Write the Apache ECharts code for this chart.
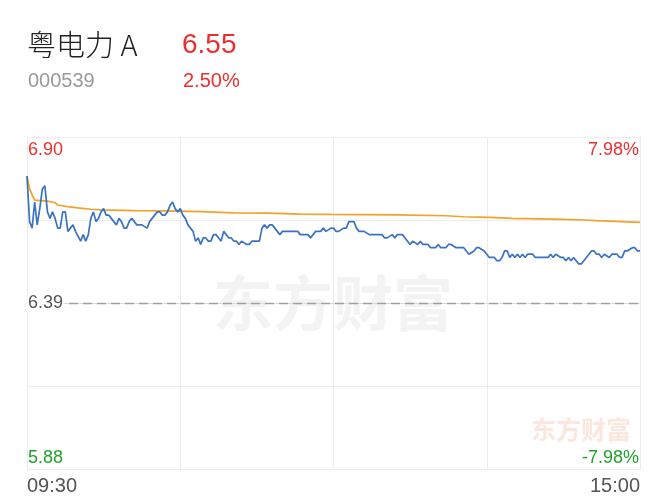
<!DOCTYPE html>
<html>
<head>
<meta charset="utf-8">
<script src="https://cdn.jsdelivr.net/npm/echarts@6/dist/echarts.min.js"></script>
<style>
html,body{margin:0;padding:0;background:#fff;}
#main{width:667px;height:500px;}
</style>
</head>
<body>
<div id="main"></div>
<script>
// ---- data ----
const stockName = '粤电力 A';
const stockCode = '000539';
const lastPrice = '6.55';
const changePct = '2.50%';
const preClose = 6.39;
const priceMin = 5.88;
const priceMax = 6.90;
const pctMax = 7.98;
const priceLabels = ['5.88', '6.39', '6.90'];
const pctLabels = ['-7.98%', '7.98%'];
const timeLabels = ['09:30', '15:00'];

const priceMinutes = [0,1,2,3,4,5,6,7,8,9,10,11,12,13,14,15,16,17,18,19,21,22,23,24,25,26,27,28,29,30,31,32,34,35,36,37,38,39,40,41,42,43,44,45,47,48,49,50,51,52,53,54,55,56,57,58,59,60,61,62,63,64,65,66,67,68,69,70,71,72,73,74,75,76,77,78,79,80,81,82,83,84,86,87,88,89,91,92,93,94,95,96,98,99,100,102,106,107,110,111,112,113,115,116,117,119,120,121,122,124,125,126,127,128,129,130,132,134,136,137,138,139,140,141,143,144,145,147,148,149,150,151,153,154,155,157,158,160,161,162,164,165,166,168,169,171,172,173,175,176,177,179,180,181,183,184,185,186,187,188,189,190,191,192,193,194,195,196,198,199,200,202,203,204,205,206,207,209,210,211,212,213,214,215,216,217,218,219,220,221,222,223,224,225,226,228,229,231,232,233,234,235,237,238,239,240];
const priceValues = [6.78,6.64,6.62,6.70,6.63,6.68,6.74,6.75,6.67,6.65,6.67,6.65,6.62,6.62,6.67,6.67,6.61,6.62,6.63,6.61,6.58,6.60,6.58,6.60,6.65,6.67,6.64,6.65,6.67,6.68,6.66,6.66,6.64,6.63,6.65,6.64,6.62,6.62,6.64,6.65,6.64,6.63,6.63,6.63,6.62,6.64,6.65,6.66,6.67,6.67,6.66,6.66,6.67,6.69,6.70,6.68,6.67,6.68,6.66,6.65,6.63,6.62,6.61,6.58,6.59,6.57,6.59,6.59,6.58,6.58,6.60,6.60,6.59,6.58,6.61,6.60,6.59,6.59,6.58,6.58,6.57,6.58,6.57,6.57,6.58,6.58,6.58,6.62,6.63,6.62,6.63,6.63,6.61,6.60,6.61,6.61,6.61,6.60,6.60,6.59,6.60,6.61,6.61,6.62,6.61,6.62,6.62,6.61,6.61,6.62,6.62,6.64,6.64,6.64,6.62,6.61,6.61,6.60,6.60,6.60,6.60,6.60,6.59,6.59,6.60,6.59,6.60,6.60,6.59,6.58,6.57,6.58,6.57,6.58,6.57,6.57,6.56,6.56,6.57,6.56,6.56,6.57,6.57,6.56,6.56,6.56,6.55,6.54,6.55,6.56,6.56,6.55,6.54,6.53,6.53,6.52,6.52,6.53,6.55,6.55,6.53,6.54,6.53,6.54,6.53,6.54,6.53,6.54,6.54,6.53,6.53,6.53,6.53,6.53,6.54,6.53,6.54,6.53,6.53,6.52,6.53,6.52,6.53,6.52,6.51,6.51,6.52,6.53,6.54,6.55,6.55,6.54,6.54,6.53,6.54,6.53,6.54,6.54,6.53,6.53,6.55,6.55,6.56,6.56,6.55,6.55];

const avgMinutes = [0,1,2,3,8,11,12,16,19,25,29,42,55,68,81,94,107,119,145,164,171,181,190,210,218,223,240];
const avgValues = [6.78,6.742,6.722,6.706,6.703,6.698,6.691,6.686,6.683,6.678,6.676,6.674,6.673,6.671,6.667,6.666,6.663,6.662,6.661,6.658,6.655,6.653,6.650,6.647,6.645,6.643,6.638];

// ---- colours / styles ----
const RED = '#e8302f';
const GREEN = '#22a02a';
const GRID = '#ececec';
const FONT = '"Liberation Sans", Arial, "Noto Sans CJK SC", sans-serif';

const priceData = priceMinutes.map((m, i) => [m, priceValues[i]]);
const avgData = avgMinutes.map((m, i) => [m, avgValues[i]]);

const chart = echarts.init(document.getElementById('main'), null, {renderer: 'canvas'});

function near(a, b) { return Math.abs(a - b) < 1e-6; }

const option = {
  animation: false,
  backgroundColor: '#fff',
  textStyle: {fontFamily: FONT},
  title: [
    {text: stockName, left: 27, top: 30, padding: 0,
     textStyle: {fontSize: 29, fontWeight: 300, color: '#222', fontFamily: '"Noto Sans CJK SC", sans-serif', letterSpacing: 1}},
    {text: lastPrice, left: 182, top: 31, padding: 0,
     textStyle: {fontSize: 28, fontWeight: 'normal', color: RED, fontFamily: FONT}},
    {text: stockCode, left: 28, top: 71, padding: 0,
     textStyle: {fontSize: 20, fontWeight: 'normal', color: '#9a9a9a', fontFamily: FONT, letterSpacing: 1}},
    {text: changePct, left: 183, top: 71, padding: 0,
     textStyle: {fontSize: 20, fontWeight: 'normal', color: RED, fontFamily: FONT}}
  ],
  graphic: [
    {type: 'text', z: -10, x: 333, y: 303, silent: true,
     style: {text: '东方财富', fill: '#f3f3f3', font: 'bold 60px "Noto Sans CJK SC"', align: 'center', verticalAlign: 'middle'}},
    {type: 'text', z: -10, x: 581, y: 429, silent: true,
     style: {text: '东方财富', fill: '#fce7df', font: 'bold 25px "Noto Sans CJK SC"', align: 'center', verticalAlign: 'middle'}}
  ],
  grid: {left: 27, right: 27, top: 137, bottom: 31, containLabel: false},
  xAxis: {
    type: 'value', min: 0, max: 240, interval: 60,
    axisLine: {show: true, lineStyle: {color: '#dcdcdc', width: 1}},
    axisTick: {show: false},
    splitLine: {show: true, lineStyle: {color: GRID, width: 1}},
    axisLabel: {
      show: true, margin: 7, fontSize: 20, color: '#555', fontFamily: FONT,
      showMinLabel: true, showMaxLabel: true,
      alignMinLabel: 'left', alignMaxLabel: 'right',
      formatter: v => v === 0 ? timeLabels[0] : (v === 240 ? timeLabels[1] : '')
    }
  },
  yAxis: [
    {
      type: 'value', min: priceMin, max: priceMax, interval: (priceMax - priceMin) / 4,
      position: 'left', scale: true,
      axisLine: {show: true, lineStyle: {color: GRID}},
      axisTick: {show: false},
      axisLabel: {show: false},
      splitLine: {show: true, lineStyle: {color: GRID, width: 1}}
    },
    {
      type: 'value', min: -pctMax, max: pctMax, interval: pctMax,
      position: 'right',
      axisLine: {show: true, lineStyle: {color: GRID}},
      axisTick: {show: false},
      splitLine: {show: false},
      axisLabel: {
        show: true, inside: true, margin: 1, fontSize: 18, fontFamily: FONT,
        formatter: v => v > 0 ? '{r|' + pctLabels[1] + '}' : (v < 0 ? '{g|' + pctLabels[0] + '}' : ''),
        rich: {
          r: {color: RED, fontSize: 18, fontFamily: FONT, padding: [26, 0, 0, 0]},
          g: {color: GREEN, fontSize: 18, fontFamily: FONT, padding: [0, 0, 22, 0]}
        }
      }
    },
    {
      type: 'value', min: priceMin, max: priceMax, interval: (priceMax - priceMin) / 2,
      position: 'left', z: 10,
      axisLine: {show: false},
      axisTick: {show: false},
      splitLine: {show: false},
      axisLabel: {
        show: true, inside: true, margin: 0, fontSize: 18, fontFamily: FONT,
        formatter: v => near(v, priceMax) ? '{r|' + priceLabels[2] + '}' :
                        (near(v, priceMin) ? '{g|' + priceLabels[0] + '}' : '{n|' + priceLabels[1] + '}'),
        rich: {
          r: {color: RED, fontSize: 18, fontFamily: FONT, padding: [26, 0, 0, 1]},
          g: {color: GREEN, fontSize: 18, fontFamily: FONT, padding: [0, 0, 22, 1]},
          n: {color: '#555', fontSize: 18, fontFamily: FONT, backgroundColor: '#fff', padding: [0, 1, 0, 1]}
        }
      }
    }
  ],
  series: [
    {
      name: '均价', type: 'line', xAxisIndex: 0, yAxisIndex: 0,
      data: avgData, showSymbol: false, smooth: false,
      lineStyle: {color: '#f2a22a', width: 1.7}, z: 3
    },
    {
      name: '价格', type: 'line', xAxisIndex: 0, yAxisIndex: 0,
      data: priceData, showSymbol: false, smooth: false,
      lineStyle: {color: '#3a73c2', width: 1.7}, z: 4,
      markLine: {
        silent: true, symbol: 'none', label: {show: false},
        lineStyle: {color: '#a0a0a0', type: [9, 5], width: 1.4},
        data: [{yAxis: preClose}]
      }
    }
  ]
};
chart.setOption(option);
</script>
</body>
</html>
